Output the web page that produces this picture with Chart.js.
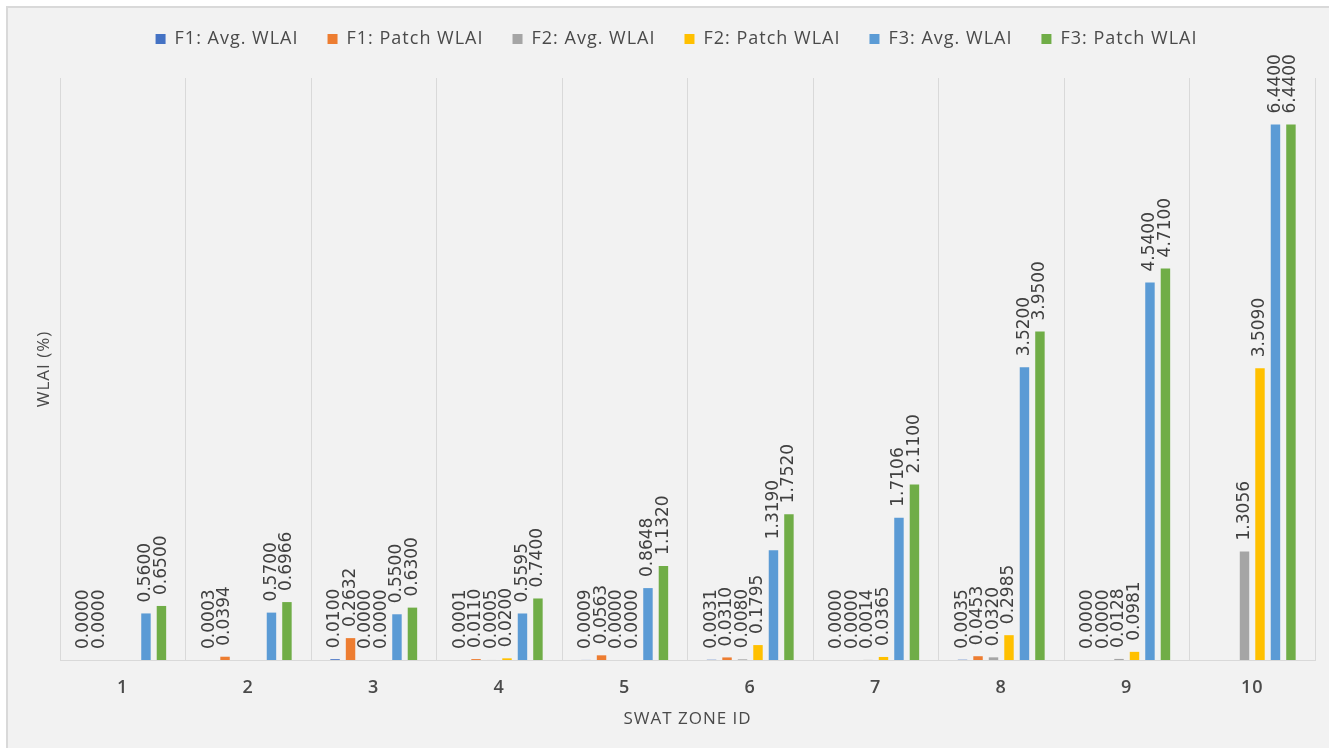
<!DOCTYPE html>
<html>
<head>
<meta charset="utf-8">
<script src="https://cdn.jsdelivr.net/npm/chart.js@4.4.1/dist/chart.umd.min.js"></script>
<style>
  html, body { margin: 0; padding: 0; background: #ffffff; }
  #frame {
    position: absolute; left: 6px; top: 6px; width: 1323px; height: 742px;
    box-sizing: border-box; background: #f2f2f2;
    border-top: 2px solid #d9d9d9; border-left: 2px solid #d9d9d9;
  }
  #wrap { position: absolute; left: 0; top: 0; width: 1321px; height: 740px; }
</style>
</head>
<body>
<div id="frame"><div id="wrap"><canvas id="chart"></canvas></div></div>
<script>
// SWAT zones on the x axis
const zones = ['1', '2', '3', '4', '5', '6', '7', '8', '9', '10'];

// WLAI (%) per zone; null where no value is reported
const f1Avg   = [0.0000, 0.0003, 0.0100, 0.0001, 0.0009, 0.0031, 0.0000, 0.0035, 0.0000, null];
const f1Patch = [0.0000, 0.0394, 0.2632, 0.0110, 0.0563, 0.0310, 0.0000, 0.0453, 0.0000, null];
const f2Avg   = [null, null, 0.0000, 0.0005, 0.0000, 0.0080, 0.0014, 0.0320, 0.0128, 1.3056];
const f2Patch = [null, null, 0.0000, 0.0200, 0.0000, 0.1795, 0.0365, 0.2985, 0.0981, 3.5090];
const f3Avg   = [0.5600, 0.5700, 0.5500, 0.5595, 0.8648, 1.3190, 1.7106, 3.5200, 4.5400, 6.4400];
const f3Patch = [0.6500, 0.6966, 0.6300, 0.7400, 1.1320, 1.7520, 2.1100, 3.9500, 4.7100, 6.4400];

const seriesNames = ['F1: Avg. WLAI', 'F1: Patch WLAI', 'F2: Avg. WLAI', 'F2: Patch WLAI', 'F3: Avg. WLAI', 'F3: Patch WLAI'];
const seriesColors = ['#4472c4', '#ed7d31', '#a5a5a5', '#ffc000', '#5b9bd5', '#70ad47'];
const seriesValues = [f1Avg, f1Patch, f2Avg, f2Patch, f3Avg, f3Patch];

const textColor = '#4a4a4a';
const uiFont = 'Open Sans';

// Slightly tracked-out UI text (legend, axis labels)
const tracking = {
  id: 'tracking',
  beforeLayout(chart) { chart.ctx.letterSpacing = '1px'; },
  beforeDraw(chart) { chart.ctx.letterSpacing = '1px'; }
};

// Vertical value labels above every reported bar
const valueLabels = {
  id: 'valueLabels',
  afterDatasetsDraw(chart) {
    const ctx = chart.ctx;
    ctx.save();
    ctx.letterSpacing = '0px';
    ctx.font = '17px "DejaVu Sans"';
    ctx.fillStyle = '#404040';
    ctx.textAlign = 'left';
    ctx.textBaseline = 'middle';
    chart.data.datasets.forEach((ds, i) => {
      const meta = chart.getDatasetMeta(i);
      meta.data.forEach((bar, j) => {
        const v = ds.data[j];
        if (v === null || v === undefined) return;
        ctx.save();
        ctx.translate(bar.x, bar.y - 11);
        ctx.rotate(-Math.PI / 2);
        ctx.fillText(v.toFixed(4), 0, 0);
        ctx.restore();
      });
    });
    ctx.restore();
  }
};

new Chart(document.getElementById('chart'), {
  type: 'bar',
  data: {
    labels: zones,
    datasets: seriesNames.map((name, i) => ({
      label: name,
      data: seriesValues[i],
      backgroundColor: seriesColors[i],
      borderWidth: 0,
      categoryPercentage: 0.74,
      barPercentage: 0.61
    }))
  },
  options: {
    responsive: true,
    maintainAspectRatio: false,
    animation: false,
    layout: { padding: { top: -7, left: 30, right: 14, bottom: 15 } },
    plugins: {
      tooltip: { enabled: false },
      legend: {
        position: 'top',
        labels: {
          boxWidth: 10,
          boxHeight: 10,
          padding: 29,
          color: textColor,
          font: { family: uiFont, size: 18 }
        }
      }
    },
    scales: {
      x: {
        type: 'category',
        grid: { display: true, color: '#d9d9d9', lineWidth: 1, drawTicks: false, offset: true },
        border: { display: true, color: '#d9d9d9', width: 1 },
        ticks: { color: textColor, font: { family: uiFont, size: 18, weight: '600' }, padding: 17, maxRotation: 0 },
        title: {
          display: true, text: 'SWAT ZONE ID', color: textColor,
          font: { family: uiFont, size: 17 }, padding: { top: 10, bottom: 4 }
        },
        afterFit(scale) { scale.height = 73; }
      },
      xTop: {
        type: 'category',
        position: 'top',
        grid: { display: false, drawTicks: false },
        border: { display: false },
        ticks: { display: false },
        afterFit(scale) { scale.height = 20; }
      },
      y: {
        min: 0,
        max: 7,
        grid: { display: false, drawTicks: false },
        border: { display: false },
        ticks: { display: false },
        title: {
          display: true, text: 'WLAI (%)', color: textColor,
          font: { family: uiFont, size: 17 }, padding: { top: -4, bottom: 6 }
        },
        afterFit(scale) { scale.width = 22; }
      }
    }
  },
  plugins: [tracking, valueLabels]
});
</script>
</body>
</html>
